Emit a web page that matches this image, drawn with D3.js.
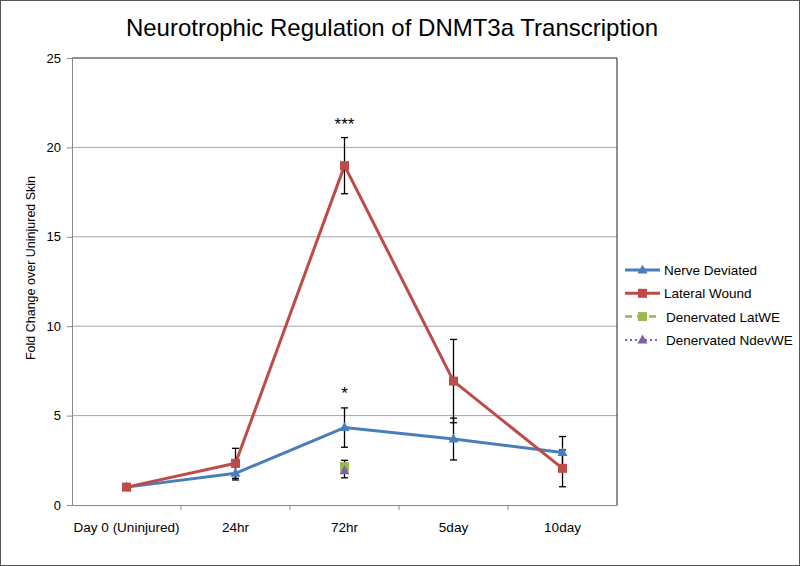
<!DOCTYPE html>
<html><head><meta charset="utf-8">
<script src="https://cdn.jsdelivr.net/npm/d3@7"></script>
<style>body{margin:0;background:#fff}svg{display:block}text{font-family:"Liberation Sans",Arial,sans-serif}</style>
</head><body>
<script>
const categories = ["Day 0 (Uninjured)", "24hr", "72hr", "5day", "10day"];
const nerveDeviated = [1.0, 1.77, 4.33, 3.69, 2.93];
const nerveDeviatedErr = [0, 0.37, 1.1, 1.17, 0.9];
const lateralWound = [1.0, 2.33, 18.98, 6.93, 2.05];
const lateralWoundErr = [0, 0.84, 1.57, 2.33, 1.03];
const denervLatWE = [null, null, 2.14, null, null];
const denervLatWEErr = [0, 0, 0.36, 0, 0];
const denervNdevWE = [null, null, 1.92, null, null];
const denervNdevWEErr = [0, 0, 0.4, 0, 0];
const yTicks = [0, 5, 10, 15, 20, 25];
const annotations = [{cat: "72hr", y: 21.0, text: "***"}, {cat: "72hr", y: 5.95, text: "*"}];

const W = 800, H = 566;
const FONT = "'Liberation Sans',Arial,sans-serif";
const svg = d3.select("body").append("svg").attr("width", W).attr("height", H);
svg.append("rect").attr("x", 0.5).attr("y", 0.5).attr("width", W - 1).attr("height", H - 1)
  .attr("fill", "#fff").attr("stroke", "#555");

const L = 72, R = 617, T = 58, B = 505;
const x = d3.scaleBand().domain(categories).range([L, R]);
const y = d3.scaleLinear().domain([0, 25]).range([B, T]);
const cx = c => x(c) + x.bandwidth() / 2;

svg.append("text").attr("x", 392).attr("y", 36).attr("text-anchor", "middle")
  .attr("font-size", 24).attr("fill", "#000").text("Neurotrophic Regulation of DNMT3a Transcription");

// gridlines
svg.append("g").selectAll("line").data(yTicks.filter(t => t > 0 && t < 25)).join("line")
  .attr("x1", L).attr("x2", R).attr("y1", d => y(d)).attr("y2", d => y(d))
  .attr("stroke", "#a6a6a6").attr("stroke-width", 1);
// plot border top & right
svg.append("line").attr("x1", L).attr("x2", R).attr("y1", T).attr("y2", T).attr("stroke", "#222");
svg.append("line").attr("x1", R).attr("x2", R).attr("y1", T).attr("y2", B).attr("stroke", "#222");

// y axis
const ya = svg.append("g").attr("transform", `translate(${L},0)`)
  .call(d3.axisLeft(y).tickValues(yTicks).tickSize(5).tickPadding(6));
ya.select(".domain").attr("stroke", "#888");
ya.selectAll(".tick line").attr("stroke", "#888");
ya.selectAll("text").attr("font-size", 13).attr("fill", "#000").attr("font-family", FONT);

// x axis
const xa = svg.append("g").attr("transform", `translate(0,${B})`)
  .call(d3.axisBottom(x).tickSize(0).tickPadding(17));
xa.select(".domain").attr("stroke", "#888");
xa.selectAll("text").attr("font-size", 13.5).attr("fill", "#000").attr("font-family", FONT);
// tick marks between categories
svg.append("g").selectAll("line").data(categories.slice(1)).join("line")
  .attr("x1", d => x(d)).attr("x2", d => x(d)).attr("y1", B).attr("y2", B + 5).attr("stroke", "#888");

svg.append("text").attr("transform", `translate(35,268) rotate(-90)`)
  .attr("text-anchor", "middle").attr("font-size", 12.5).text("Fold Change over Uninjured Skin");

const series = [
  {name: "Nerve Deviated", vals: nerveDeviated, err: nerveDeviatedErr, color: "#4a7ebb", marker: "tri", dash: null, width: 3},
  {name: "Lateral Wound", vals: lateralWound, err: lateralWoundErr, color: "#be4b48", marker: "sq", dash: null, width: 3},
  {name: "Denervated LatWE", vals: denervLatWE, err: denervLatWEErr, color: "#98b954", marker: "sq", dash: "7,5", width: 2.5},
  {name: "Denervated NdevWE", vals: denervNdevWE, err: denervNdevWEErr, color: "#7d60a0", marker: "tri", dash: "2,3", width: 2}
];

function drawMarker(g, m, px, py, color) {
  if (m === "sq") {
    g.append("rect").attr("x", px - 4.5).attr("y", py - 4.5).attr("width", 9).attr("height", 9).attr("fill", color);
  } else {
    g.append("path").attr("d", `M${px},${py - 5.5}L${px + 5},${py + 3.5}L${px - 5},${py + 3.5}Z`).attr("fill", color);
  }
}

// lines
series.forEach(s => {
  const pts = categories.map((c, i) => ({c, v: s.vals[i], e: s.err[i]})).filter(d => d.v != null);
  if (pts.length > 1) {
    svg.append("path").datum(pts)
      .attr("d", d3.line().x(d => cx(d.c)).y(d => y(d.v)))
      .attr("fill", "none").attr("stroke", s.color).attr("stroke-width", s.width)
      .attr("stroke-linejoin", "round");
  }
});
// error bars
series.forEach(s => {
  const pts = categories.map((c, i) => ({c, v: s.vals[i], e: s.err[i]})).filter(d => d.v != null && d.e > 0);
  const g = svg.append("g").attr("stroke", "#000").attr("stroke-width", 1.3);
  pts.forEach(d => {
    const px = cx(d.c);
    g.append("line").attr("x1", px).attr("x2", px).attr("y1", y(d.v + d.e)).attr("y2", y(d.v - d.e));
    g.append("line").attr("x1", px - 3.5).attr("x2", px + 3.5).attr("y1", y(d.v + d.e)).attr("y2", y(d.v + d.e));
    g.append("line").attr("x1", px - 3.5).attr("x2", px + 3.5).attr("y1", y(d.v - d.e)).attr("y2", y(d.v - d.e));
  });
});
// markers
series.forEach(s => {
  const g = svg.append("g");
  categories.forEach((c, i) => { if (s.vals[i] != null) drawMarker(g, s.marker, cx(c), y(s.vals[i]), s.color); });
});

// annotations
svg.append("g").selectAll("text").data(annotations).join("text")
  .attr("x", d => cx(d.cat)).attr("y", d => y(d.y)).attr("text-anchor", "middle")
  .attr("font-size", 17).text(d => d.text);

// legend
const lg = svg.append("g");
series.forEach((s, i) => {
  const ly = 270 + i * 23.3;
  lg.append("line").attr("x1", 625).attr("x2", 660).attr("y1", ly).attr("y2", ly)
    .attr("stroke", s.color).attr("stroke-width", s.width).attr("stroke-dasharray", s.dash);
  drawMarker(lg, s.marker, 642.5, ly, s.color);
  lg.append("text").attr("x", i < 2 ? 664 : 666).attr("y", ly + 5).attr("font-size", 13.5).text(s.name);
});
</script>
</body></html>
